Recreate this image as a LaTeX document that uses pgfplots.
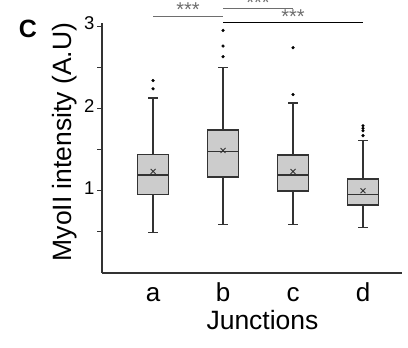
\documentclass[border=0pt]{standalone}
\usepackage{pgfplots}
\pgfplotsset{compat=1.18}
\usepgfplotslibrary{statistics}
\usepackage{fontspec}
\setmainfont{Liberation Sans}
\definecolor{boxgray}{RGB}{204,204,204}
\definecolor{linegray}{RGB}{51,51,51}
\definecolor{sigray}{RGB}{110,110,110}
\begin{document}
\begin{tikzpicture}[x=1pt,y=1pt]
\useasboundingbox (0,0) rectangle (408,348);
\node[font=\bfseries\fontsize{25}{25}\selectfont, inner sep=0pt] at (28,319) {C};
\begin{axis}[
  at={(102pt,75pt)}, anchor=south west,
  scale only axis, width=300pt, height=250pt,
  xmin=0.27, xmax=4.557, ymin=0, ymax=3.04,
  axis lines=left,
  axis line style={-, line width=1.2pt, linegray},
  clip=false,
  xtick={1,2,3,4}, xticklabels={a,b,c,d},
  ytick={1,2,3}, minor ytick={0.5,1.5,2.5},
  tick align=outside,
  major tick length=4.5pt, minor tick length=4.5pt,
  xtick style={draw=none},
  ytick style={line width=1pt, linegray},
  minor tick style={line width=1pt, linegray},
  /pgf/number format/assume math mode=true,
  yticklabel style={font=\fontsize{18.5}{18.5}\selectfont, inner sep=0pt, xshift=-3pt},
  xticklabel style={font=\fontsize{26}{26}\selectfont, anchor=base, inner sep=0pt, yshift=-24pt},
  typeset ticklabels with strut=false,
  ylabel={MyoII intensity (A.U)},
  ylabel style={at={(axis description cs:-0.103,0.524)}, anchor=base, font=\fontsize{26.5}{26.5}\selectfont, inner sep=0pt},
  xlabel={Junctions},
  xlabel style={at={(axis description cs:0.535,-0.228)}, anchor=base, font=\fontsize{26.5}{26.5}\selectfont, inner sep=0pt},
  boxplot/draw direction=y,
  boxplot/box extend=0.44,
  boxplot/whisker extend=0.143,
  boxplot/every box/.style={draw=linegray, fill=boxgray, line width=1.5pt},
  boxplot/every whisker/.style={draw=linegray, line width=1.4pt},
  boxplot/every median/.style={draw=linegray, line width=1.5pt},
]
\addplot[linegray, solid, boxplot prepared={lower whisker=0.49, lower quartile=0.955, median=1.19, upper quartile=1.44, upper whisker=2.13, draw position=1}] coordinates {};
\addplot[linegray, solid, boxplot prepared={lower whisker=0.59, lower quartile=1.17, median=1.48, upper quartile=1.74, upper whisker=2.50, draw position=2}] coordinates {};
\addplot[linegray, solid, boxplot prepared={lower whisker=0.59, lower quartile=1.0, median=1.19, upper quartile=1.435, upper whisker=2.065, draw position=3}] coordinates {};
\addplot[linegray, solid, boxplot prepared={lower whisker=0.55, lower quartile=0.825, median=0.955, upper quartile=1.14, upper whisker=1.61, draw position=4}] coordinates {};
% means
\addplot[only marks, mark=x, mark size=3.5pt, mark options={line width=0.9pt, linegray}] coordinates {(1,1.235) (2,1.49) (3,1.235) (4,1.0)};
% outliers
\addplot[only marks, mark=*, mark size=1.4pt, black] coordinates {
(1,2.24) (1,2.34)
(2,2.63) (2,2.76) (2,2.95)
(3,2.17) (3,2.74)
(4,1.67) (4,1.73) (4,1.76) (4,1.79)};
% significance bars
\draw[sigray, line width=1pt] (axis cs:1,3.125) -- (axis cs:2,3.125);
\node[sigray, font=\fontsize{20}{20}\selectfont, anchor=base, inner sep=0pt] at (axis cs:1.5,3.115) {***};
\draw[sigray, line width=1pt] (axis cs:2,3.22) -- (axis cs:3,3.22);
\node[sigray, font=\fontsize{20}{20}\selectfont, anchor=base, inner sep=0pt] at (axis cs:2.5,3.21) {***};
\draw[black, line width=1pt] (axis cs:2,3.045) -- (axis cs:4,3.045);
\node[sigray, font=\fontsize{20}{20}\selectfont, anchor=base, inner sep=0pt] at (axis cs:3,3.035) {***};
\end{axis}
\end{tikzpicture}
\end{document}
